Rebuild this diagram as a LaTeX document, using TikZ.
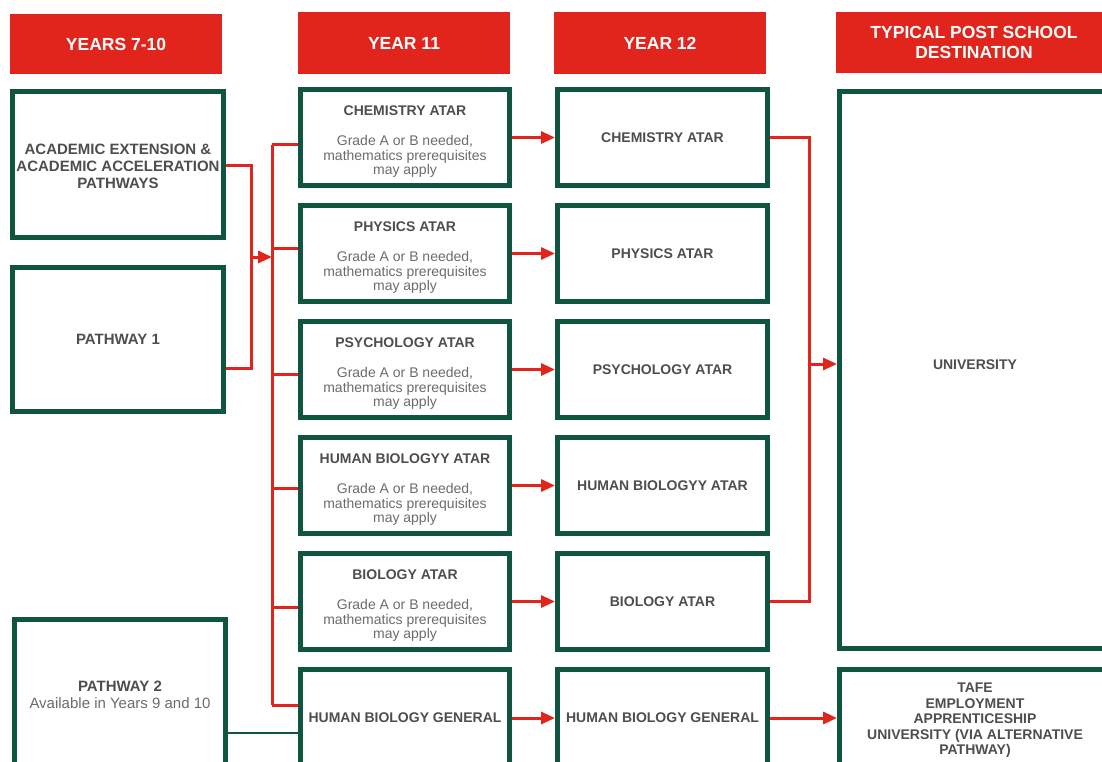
\documentclass[tikz,border=0pt]{standalone}
\usepackage{fontspec}
\setmainfont{Liberation Sans}
\usetikzlibrary{arrows.meta}
\pgfdeclarelayer{links}
\pgfsetlayers{links,main}
\definecolor{hdrred}{RGB}{225,37,28}
\definecolor{boxgreen}{RGB}{16,84,66}
\definecolor{titlegray}{RGB}{78,78,78}
\definecolor{bodygray}{RGB}{108,108,108}
\newcommand\bodyline[1]{{\mdseries\color{bodygray}#1}}
\newcommand\prereq{\\[15.5pt]\bodyline{Grade A or B needed,}\\\bodyline{mathematics prerequisites}\\\bodyline{may apply}}
\newcommand\toppad{\rule{0pt}{18pt}}
\begin{document}
\begin{tikzpicture}[x=1pt,y=-1pt,
  hdr/.style={fill=hdrred, text=white, inner sep=0pt, align=center,
    font=\fontsize{17.5}{20}\selectfont\bfseries},
  box/.style={draw=boxgreen, line width=5pt, fill=white, inner sep=0pt, align=center,
    text=titlegray, font=\fontsize{14}{14.5}\selectfont\bfseries},
  bigbox/.style={box, font=\fontsize{15}{17}\selectfont\bfseries},
  destbox/.style={box, font=\fontsize{14}{15.5}\selectfont\bfseries},
  link/.style={draw=hdrred, line width=3pt},
  flow/.style={link, -{Triangle[length=14pt,width=12pt]}},
  greenlink/.style={draw=boxgreen, line width=2pt},
]
\useasboundingbox (0,0) rectangle (1102,762);
\clip (0,0) rectangle (1102,762);

% column headers
\node[hdr, minimum width=212pt, minimum height=60pt] (h710) at (116,44) {YEARS 7-10};
\node[hdr, minimum width=212pt, minimum height=62pt] (h11) at (404,43) {YEAR 11};
\node[hdr, minimum width=212pt, minimum height=62pt] (h12) at (660,43) {YEAR 12};
\node[hdr, minimum width=276pt, minimum height=61pt] (hdest) at (974,42.5) {TYPICAL POST SCHOOL\\DESTINATION};

% years 7-10
\node[bigbox, minimum width=211pt, minimum height=146pt] (acad) at (118,164.5)
  {\rule{0pt}{15pt}ACADEMIC EXTENSION \&\\ACADEMIC ACCELERATION\\PATHWAYS};
\node[bigbox, minimum width=211pt, minimum height=144pt] (path1) at (118,339.5) {PATHWAY 1};
\node[bigbox, minimum width=211pt, minimum height=150pt] (path2) at (120,694.5)
  {PATHWAY 2\\\bodyline{Available in Years 9 and 10}};

% year 11
\node[box, minimum width=209pt, minimum height=96pt] (chem11) at (405,137.5) {\toppad CHEMISTRY ATAR\prereq};
\node[box, minimum width=209pt, minimum height=96pt] (phys11) at (405,253.5) {\toppad PHYSICS ATAR\prereq};
\node[box, minimum width=209pt, minimum height=96pt] (psych11) at (405,369.5) {\toppad PSYCHOLOGY ATAR\prereq};
\node[box, minimum width=209pt, minimum height=96pt] (hb11) at (405,485.5) {\toppad HUMAN BIOLOGYY ATAR\prereq};
\node[box, minimum width=209pt, minimum height=96pt] (bio11) at (405,601.5) {\toppad BIOLOGY ATAR\prereq};
\node[box, minimum width=209pt, minimum height=97pt] (hbg11) at (405,718) {HUMAN BIOLOGY GENERAL};

% year 12
\node[box, minimum width=210pt, minimum height=96pt] (chem12) at (662.5,137.5) {CHEMISTRY ATAR};
\node[box, minimum width=210pt, minimum height=96pt] (phys12) at (662.5,253.5) {PHYSICS ATAR};
\node[box, minimum width=210pt, minimum height=96pt] (psych12) at (662.5,369.5) {PSYCHOLOGY ATAR};
\node[box, minimum width=210pt, minimum height=96pt] (hb12) at (662.5,485.5) {HUMAN BIOLOGYY ATAR};
\node[box, minimum width=210pt, minimum height=96pt] (bio12) at (662.5,601.5) {BIOLOGY ATAR};
\node[box, minimum width=210pt, minimum height=97pt] (hbg12) at (662.5,718) {HUMAN BIOLOGY GENERAL};

% destinations
\node[destbox, minimum width=271pt, minimum height=557pt] (uni) at (975,370)
  {UNIVERSITY\rule[-11pt]{0pt}{11pt}};
\node[destbox, minimum width=271pt, minimum height=97pt] (tafe) at (975,718)
  {\rule{0pt}{14pt}TAFE\\EMPLOYMENT\\APPRENTICESHIP\\UNIVERSITY (VIA ALTERNATIVE\\PATHWAY)};

% junction points of the connectors
\coordinate (inA) at (251,166);
\coordinate (inB) at (251,368);
\coordinate (inMid) at (251,257);
\coordinate (busTop) at (272,145);
\coordinate (bus2) at (272,248);
\coordinate (bus3) at (272,374);
\coordinate (bus4) at (272,488);
\coordinate (bus5) at (272,607);
\coordinate (busBot) at (272,705);
\coordinate (outTop) at (809,137.5);
\coordinate (outBot) at (809,601.5);
\coordinate (outMid) at (809,364);
\coordinate (p2join) at (228,733);

\begin{pgfonlayer}{links}
  \fill[white] (0,0) rectangle (1102,762);
  % years 7-10 into the year 11 bus
  \draw[link] (inA -| acad.east) -- (inA) -- (inB) -- (inB -| path1.east);
  \draw[flow] (inMid) -- (inMid -| busTop);
  \draw[link] (busTop) -- (busBot);
  \draw[link] (busTop) -- (busTop -| chem11.west);
  \draw[link] (bus2) -- (bus2 -| phys11.west);
  \draw[link] (bus3) -- (bus3 -| psych11.west);
  \draw[link] (bus4) -- (bus4 -| hb11.west);
  \draw[link] (bus5) -- (bus5 -| bio11.west);
  \draw[link] (busBot) -- (busBot -| hbg11.west);
  \draw[greenlink] (p2join -| path2.east) -- (p2join -| hbg11.west);
  % year 11 to year 12
  \draw[flow] (chem11.east) -- (chem12.west);
  \draw[flow] (phys11.east) -- (phys12.west);
  \draw[flow] (psych11.east) -- (psych12.west);
  \draw[flow] (hb11.east) -- (hb12.west);
  \draw[flow] (bio11.east) -- (bio12.west);
  \draw[flow] (hbg11.east) -- (hbg12.west);
  % year 12 to destinations
  \draw[link] (chem12.east) -- (outTop) -- (outBot) -- (bio12.east);
  \draw[flow] (outMid) -- (outMid -| uni.west);
  \draw[flow] (hbg12.east) -- (tafe.west);
\end{pgfonlayer}
\end{tikzpicture}
\end{document}
